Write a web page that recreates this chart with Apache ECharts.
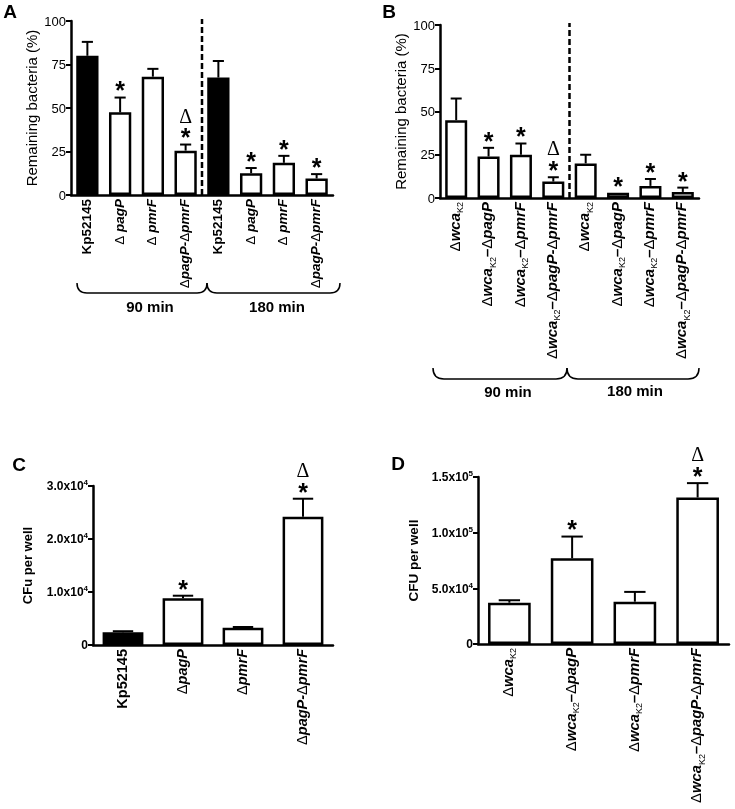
<!DOCTYPE html>
<html><head><meta charset="utf-8">
<script src="https://cdn.jsdelivr.net/npm/echarts@6/dist/echarts.min.js"></script>
<style>html,body{margin:0;padding:0;background:#fff}#c{width:735px;height:809px}</style>
</head><body><div id="c"></div>
<script>
// ---------- data ----------
const catsA = ['Kp52145','Δ pagP','Δ pmrF','ΔpagP-ΔpmrF','Kp52145','Δ pagP','Δ pmrF','ΔpagP-ΔpmrF'];
const meanA = [80, 47.5, 68, 25.5, 67.5, 12.5, 18.5, 9.5];
const semA  = [8, 8.5, 4.5, 3.5, 9.5, 3, 4, 2.5];
const starA = [0, 1, 0, 1, 0, 1, 1, 1];
const deltaA= [0, 0, 0, 1, 0, 0, 0, 0];

const catsB = ['ΔwcaK2','ΔwcaK2–ΔpagP','ΔwcaK2–ΔpmrF','ΔwcaK2–ΔpagP-ΔpmrF','ΔwcaK2','ΔwcaK2–ΔpagP','ΔwcaK2–ΔpmrF','ΔwcaK2–ΔpagP-ΔpmrF'];
const meanB = [45, 24, 25, 9.5, 20, 3, 7, 3.5];
const semB  = [12.5, 5, 6.5, 2.5, 5, 0, 4, 2.5];
const starB = [0, 1, 1, 1, 0, 1, 1, 1];
const deltaB= [0, 0, 0, 1, 0, 0, 0, 0];

const catsC = ['Kp52145','ΔpagP','ΔpmrF','ΔpagP-ΔpmrF'];
const meanC = [2400, 8800, 3250, 24200];
const semC  = [200, 500, 150, 3400];
const starC = [0, 1, 0, 1];
const deltaC= [0, 0, 0, 1];

const catsD = ['ΔwcaK2','ΔwcaK2–ΔpagP','ΔwcaK2–ΔpmrF','ΔwcaK2–ΔpagP-ΔpmrF'];
const meanD = [37100, 77000, 38000, 131600];
const semD  = [2200, 19500, 8800, 12900];
const starD = [0, 1, 0, 1];
const deltaD= [0, 0, 0, 1];

const ticksAB = ['0','25','50','75','100'];
const ticksC  = ['0','1.0x10^4','2.0x10^4','3.0x10^4'];
const ticksD  = ['0','5.0x10^4','1.0x10^5','1.5x10^5'];
const timeGroups = ['90 min','180 min'];
const panelLetters = ['A','B','C','D'];

// ---------- layout ----------
const FONT = '"Liberation Sans", Arial, Helvetica, sans-serif';
const SERIF = '"Liberation Serif", "Times New Roman", serif';
const panels = [
  {cats:catsA, mean:meanA, sem:semA, star:starA, delta:deltaA, ticks:ticksAB, max:100, interval:25,
   grid:{left:71, top:21, width:262, height:174}, name:'Remaining bacteria (%)', nameSize:15, nameWeight:'normal', nameGap:30,
   tickSize:13, tickWeight:'normal', labSize:13.5, divider:true},
  {cats:catsB, mean:meanB, sem:semB, star:starB, delta:deltaB, ticks:ticksAB, max:100, interval:25,
   grid:{left:440, top:25, width:259, height:173}, name:'Remaining bacteria (%)', nameSize:15, nameWeight:'normal', nameGap:30,
   tickSize:13, tickWeight:'normal', labSize:15, divider:true},
  {cats:catsC, mean:meanC, sem:semC, star:starC, delta:deltaC, ticks:ticksC, max:30000, interval:10000,
   grid:{left:93, top:486, width:240, height:159}, name:'CFu per well', nameSize:13, nameWeight:'bold', nameGap:58,
   tickSize:12, tickWeight:'bold', labSize:14.5, divider:false},
  {cats:catsD, mean:meanD, sem:semD, star:starD, delta:deltaD, ticks:ticksD, max:150000, interval:50000,
   grid:{left:478, top:477, width:251, height:167}, name:'CFU per well', nameSize:13.5, nameWeight:'bold', nameGap:57,
   tickSize:12, tickWeight:'bold', labSize:14.8, divider:false}
];

function catRich(s) {
  if (/^Kp/.test(s)) return '{b|' + s + '}';
  return s.replace(/K2/g, '§').split(/(Δ|§)/).filter(t => t.length).map(t =>
    t === 'Δ' ? '{d|Δ}' : t === '§' ? '{s|K2}' : '{i|' + t + '}').join('');
}
function tickRich(s) {
  if (s.indexOf('^') < 0) return '{m|' + s + '}';
  const p = s.split('^');
  return '{m|' + p[0] + '}{p|' + p[1] + '}';
}

const grids = [], xAxes = [], yAxes = [], series = [];
panels.forEach((P, k) => {
  grids.push(P.grid);
  const fs = P.labSize;
  xAxes.push({
    type:'category', gridIndex:k, data:P.cats,
    axisLine:{lineStyle:{color:'#000', width:2.5}},
    axisTick:{show:false},
    axisLabel:{
      interval:0, rotate:90, margin:4, color:'#000',
      formatter: v => catRich(v),
      rich:{
        b:{fontFamily:FONT, fontWeight:'bold', fontSize:fs, lineHeight:fs+1, verticalAlign:'top', color:'#000'},
        i:{fontFamily:FONT, fontWeight:'bold', fontStyle:'italic', fontSize:fs, lineHeight:fs+1, verticalAlign:'top', color:'#000'},
        d:{fontFamily:FONT, fontWeight:'normal', fontSize:fs, lineHeight:fs+1, verticalAlign:'top', color:'#000'},
        s:{fontFamily:FONT, fontWeight:'normal', fontSize:Math.round(fs*0.62), lineHeight:Math.round(fs*0.62), padding:[Math.round(fs*0.55),0,0,0], verticalAlign:'top', color:'#000'}
      }
    }
  });
  yAxes.push({
    type:'value', gridIndex:k, min:0, max:P.max, interval:P.interval,
    name:P.name, nameLocation:'middle', nameRotate:90, nameGap:P.nameGap,
    nameTextStyle:{fontFamily:FONT, fontSize:P.nameSize, fontWeight:P.nameWeight, color:'#000'},
    axisLine:{show:true, lineStyle:{color:'#000', width:2.5}},
    axisTick:{show:true, length:5, lineStyle:{color:'#000', width:2}},
    splitLine:{show:false},
    axisLabel:{
      margin:5, color:'#000',
      formatter: v => tickRich(P.ticks[Math.round(v / P.interval)]),
      rich:{
        m:{fontFamily:FONT, fontSize:P.tickSize, fontWeight:P.tickWeight, lineHeight:P.tickSize+2, verticalAlign:'bottom', color:'#000'},
        p:{fontFamily:FONT, fontSize:8, fontWeight:P.tickWeight, lineHeight:9, verticalAlign:'top', color:'#000'}
      }
    }
  });
  series.push({
    type:'bar', xAxisIndex:k, yAxisIndex:k, barWidth:'68%', z:2,
    data:P.mean.map((m, j) => ({value:m, itemStyle:{color: /^Kp/.test(P.cats[j]) ? '#000' : '#fff'}})),
    itemStyle:{borderColor:'#000', borderWidth:2.5}
  });
  series.push({
    type:'custom', xAxisIndex:k, yAxisIndex:k, z:3, clip:false,
    encode:{x:0, y:1},
    data:P.mean.map((m, j) => [j, m, P.sem[j], P.star[j], P.delta[j]]),
    renderItem:(params, api) => {
      const j = api.value(0), m = api.value(1), s = api.value(2), st = api.value(3), dl = api.value(4);
      const bw = api.size([1, 0])[0];
      const top = api.coord([j, m]);
      const end = api.coord([j, m + s]);
      const ch = [];
      const ls = {stroke:'#000', lineWidth:2};
      if (s > 0) {
        ch.push({type:'line', shape:{x1:top[0], y1:top[1], x2:end[0], y2:end[1]}, style:ls});
        ch.push({type:'line', shape:{x1:end[0]-bw*0.17, y1:end[1], x2:end[0]+bw*0.17, y2:end[1]}, style:ls});
      }
      let y = end[1];
      if (st) {
        y -= 11;
        ch.push({type:'text', x:end[0], y:y + 6, style:{text:'*', align:'center', verticalAlign:'middle',
          fontFamily:FONT, fontWeight:'bold', fontSize:25, fill:'#000'}});
      }
      if (dl) {
        y -= 16;
        ch.push({type:'text', x:end[0], y:y, style:{text:'Δ', align:'center', verticalAlign:'middle',
          fontFamily:SERIF, fontWeight:'normal', fontSize:20, fill:'#000'}});
      }
      return {type:'group', children:ch};
    }
  });
  if (P.divider) {
    series.push({
      type:'custom', xAxisIndex:k, yAxisIndex:k, z:4, clip:false,
      data:[[0, 0]],
      renderItem:(params, api) => {
        const a = api.coord([3, 0]), b = api.coord([4, 0]), t = api.coord([3, P.max]);
        const x = (a[0] + b[0]) / 2;
        return {type:'line', shape:{x1:x, y1:a[1], x2:x, y2:t[1]-2},
          style:{stroke:'#000', lineWidth:2.5, lineDash:[6,3]}};
      }
    });
  }
});

// ---------- decorations: braces, group labels, panel letters ----------
function brace(x0, x1, yt, yb) {
  const r = yb - yt;
  const st = {stroke:'#000', lineWidth:1.5, fill:null};
  return [
    {type:'bezierCurve', shape:{x1:x0, y1:yt, cpx1:x0, cpy1:yb, x2:x0+r, y2:yb}, style:st},
    {type:'line', shape:{x1:x0+r, y1:yb, x2:x1-r, y2:yb}, style:st},
    {type:'bezierCurve', shape:{x1:x1-r, y1:yb, cpx1:x1, cpy1:yb, x2:x1, y2:yt}, style:st}
  ];
}
function label(text, x, y, size, weight) {
  return {type:'text', x:x, y:y, style:{text:text, align:'center', verticalAlign:'middle',
    fontFamily:FONT, fontWeight:weight || 'bold', fontSize:size, fill:'#000'}};
}
const graphics = [].concat(
  brace(77, 207, 283, 293), brace(207, 340, 283, 293),
  [label(timeGroups[0], 150, 308, 15), label(timeGroups[1], 277, 308, 15)],
  brace(433, 567, 368, 379), brace(567, 699, 368, 379),
  [label(timeGroups[0], 508, 393, 15), label(timeGroups[1], 635, 392, 15)],
  [label(panelLetters[0], 10, 13, 19), label(panelLetters[1], 389, 13, 19),
   label(panelLetters[2], 19, 466, 19), label(panelLetters[3], 398, 465, 19)]
);

const chart = echarts.init(document.getElementById('c'));
chart.setOption({
  animation:false,
  backgroundColor:'#fff',
  textStyle:{fontFamily:FONT},
  grid:grids, xAxis:xAxes, yAxis:yAxes, series:series,
  graphic:graphics
});
</script></body></html>
